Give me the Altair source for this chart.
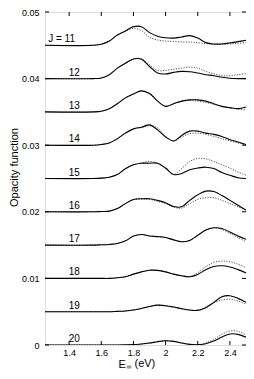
import altair as alt
import pandas as pd

# Photon energy grid (eV)
E = [1.25, 1.55, 1.6, 1.65, 1.7, 1.75, 1.8, 1.85, 1.9, 1.95, 2.0,
     2.05, 2.1, 2.15, 2.2, 2.25, 2.3, 2.35, 2.4, 2.45, 2.5]

J_VALUES = [11, 12, 13, 14, 15, 16, 17, 18, 19, 20]
SHIFT = 0.005  # vertical shift between successive J curves

# opacity function (units of 1e-3), solid = one model, dotted = other
s11 = [0, 0, 0.15, 0.64, 1.55, 2.15, 2.8, 2.8, 1.9, 1.37, 1.13, 1.08, 1.25, 1.45, 1.1, 0.4, 0.2, 0.2, 0.35, 0.55, 0.75]
d11 = [0, 0, 0.15, 0.64, 1.55, 2.1, 2.55, 2.2, 1.2, 0.8, 0.64, 0.59, 0.5, 0.49, 0.39, 0.25, 0.12, 0.15, 0.2, 0.3, 0.4]
s12 = [0, 0, 0.1, 0.59, 1.57, 2.3, 2.95, 2.9, 1.82, 0.83, 0.69, 0.93, 1.08, 1.03, 0.83, 0.59, 0.44, 0.2, 0.05, 0, 0]
d12 = [0, 0, 0.1, 0.59, 1.57, 2.3, 2.95, 3.0, 2.06, 1.23, 1.23, 1.42, 1.57, 1.72, 1.57, 1.08, 0.74, 0.44, 0.44, 0.59, 0.74]
s13 = [0, 0, 0.1, 0.49, 1.23, 2.11, 2.7, 3.15, 2.75, 1.62, 0.83, 1.23, 1.62, 1.81, 1.81, 1.62, 1.23, 0.83, 0.64, 0.49, 0.74]
d13 = [0, 0, 0.1, 0.49, 1.23, 2.11, 2.7, 3.15, 2.75, 1.62, 0.83, 1.23, 1.6, 1.72, 1.62, 1.42, 1.13, 0.83, 0.6, 0.4, 0.3]
s14 = [0, 0, 0.1, 0.34, 0.98, 1.81, 2.45, 2.7, 3.05, 2.3, 1.23, 0.64, 1.47, 2.11, 2.11, 1.81, 1.62, 1.32, 0.83, 0.49, 0.1]
d14 = [0, 0, 0.1, 0.34, 0.98, 1.81, 2.4, 2.65, 2.9, 2.6, 1.32, 0.64, 1.23, 1.72, 1.81, 1.62, 1.32, 0.98, 0.64, 0.34, 0.05]
s15 = [0, 0, 0.05, 0.2, 0.59, 1.47, 2.06, 2.3, 2.3, 2.3, 1.57, 0.6, 0.75, 1.32, 1.57, 1.7, 1.5, 0.9, 0.49, 0.1, 0.0]
d15 = [0, 0, 0.05, 0.2, 0.59, 1.47, 2.06, 2.35, 2.55, 2.3, 1.47, 0.6, 1.5, 2.55, 3.0, 2.94, 2.55, 2.06, 1.57, 0.98, 0.49]
s16 = [0, 0, 0.05, 0.1, 0.49, 1.23, 1.86, 1.96, 1.96, 1.72, 1.37, 0.8, 0.75, 1.72, 2.55, 3.1, 3.05, 2.45, 1.72, 0.98, 0.25]
d16 = [0, 0, 0.05, 0.1, 0.49, 1.2, 1.8, 1.9, 1.86, 1.57, 1.23, 0.7, 0.55, 1.23, 1.86, 2.11, 2.1, 1.72, 1.23, 0.74, 0.25]
s17 = [0, 0, 0.05, 0.1, 0.25, 0.64, 1.35, 1.6, 1.37, 1.27, 1.13, 0.78, 0.5, 0.7, 1.47, 2.25, 2.6, 2.5, 1.96, 1.37, 0.88]
d17 = [0, 0, 0.05, 0.1, 0.25, 0.64, 1.35, 1.6, 1.37, 1.27, 1.13, 0.78, 0.5, 0.7, 1.47, 2.25, 2.6, 2.35, 1.76, 1.13, 0.49]
s18 = [0, 0, 0, 0, 0.1, 0.25, 0.64, 0.98, 1.23, 1.2, 0.98, 0.64, 0.39, 0.25, 0.6, 1.3, 1.8, 1.9, 1.72, 1.32, 0.83]
d18 = [0, 0, 0, 0, 0.1, 0.25, 0.64, 0.98, 1.23, 1.2, 0.98, 0.64, 0.39, 0.25, 0.85, 1.75, 2.4, 2.6, 2.5, 2.15, 1.6]
s19 = [0, 0, 0, 0, 0.05, 0.1, 0.25, 0.49, 0.78, 0.98, 0.9, 0.7, 0.45, 0.25, 0.2, 0.6, 1.4, 2.25, 2.4, 2.0, 1.4]
d19 = [0, 0, 0, 0, 0.05, 0.1, 0.25, 0.49, 0.78, 0.98, 0.9, 0.7, 0.45, 0.25, 0.25, 0.7, 1.35, 1.75, 1.88, 1.6, 1.15]
s20 = [0, 0, 0, 0, 0, 0.02, 0.05, 0.15, 0.3, 0.5, 0.64, 0.55, 0.3, 0.1, 0.05, 0.2, 0.6, 1.2, 1.65, 1.6, 1.18]
d20 = [0, 0, 0, 0, 0, 0.02, 0.05, 0.15, 0.3, 0.5, 0.64, 0.55, 0.3, 0.1, 0.05, 0.3, 0.85, 1.6, 2.1, 2.05, 1.5]

SOLID = [s11, s12, s13, s14, s15, s16, s17, s18, s19, s20]
DOTTED = [d11, d12, d13, d14, d15, d16, d17, d18, d19, d20]

X_TICKS = [1.4, 1.6, 1.8, 2.0, 2.2, 2.4]
Y_TICKS = [0, 0.01, 0.02, 0.03, 0.04, 0.05]

rows = []
for j, s, d in zip(J_VALUES, SOLID, DOTTED):
    off = SHIFT * (20 - j)
    for e, vs, vd in zip(E, s, d):
        rows.append({"E": e, "J": j, "kind": "solid", "v": off + vs * 1e-3})
        rows.append({"E": e, "J": j, "kind": "dotted", "v": off + vd * 1e-3})
df = pd.DataFrame(rows)

lab = pd.DataFrame({"J": J_VALUES,
                    "v": [SHIFT * (20 - j) for j in J_VALUES],
                    "txt": ["J = 11"] + [str(j) for j in J_VALUES[1:]]})

W, H = 201, 333
FONT = "Liberation Sans"

xs = alt.Scale(domain=[1.25, 2.5], nice=False, zero=False)
ys = alt.Scale(domain=[0, 0.05], nice=False)

x_axis = alt.Axis(values=X_TICKS, format="~g", tickSize=0, domain=False, grid=False,
                  labelPadding=3, labelFontSize=9, labelFont=FONT, labelColor="black",
                  title="E", titleFont=FONT, titleFontSize=11, titleFontWeight="normal",
                  titleColor="black", titleX=73, titleY=22, titleAlign="left",
                  titleBaseline="alphabetic", titleAnchor="start")
y_axis = alt.Axis(values=Y_TICKS,
                  labelExpr="datum.value == 0 ? '0' : format(datum.value, '.2f')",
                  tickSize=0, domain=False, grid=False, labelPadding=6,
                  labelFontSize=9, labelFont=FONT, labelColor="black",
                  title="Opacity function", titleFont=FONT, titleFontSize=11,
                  titleFontWeight="normal", titleColor="black", titleX=-26, titleY=155,
                  titleAlign="center", titleBaseline="bottom", titleAngle=-90)

base = alt.Chart(df)
dotted = base.transform_filter("datum.kind == 'dotted'").mark_line(
    color="#555555", strokeWidth=1, strokeDash=[1.2, 1.4], interpolate="catmull-rom", clip=True
).encode(x=alt.X("E:Q", scale=xs, axis=x_axis), y=alt.Y("v:Q", scale=ys, axis=y_axis),
         detail="J:N")
solid = base.transform_filter("datum.kind == 'solid'").mark_line(
    color="black", strokeWidth=1.1, interpolate="catmull-rom", clip=True
).encode(x=alt.X("E:Q", scale=xs), y=alt.Y("v:Q", scale=ys), detail="J:N")

labels_first = alt.Chart(lab).transform_filter("datum.J == 11").mark_text(
    font=FONT, fontSize=10, color="black", align="center", baseline="alphabetic", dy=-3
).encode(x=alt.datum(1.353), y=alt.Y("v:Q", scale=ys), text="txt:N")
labels_rest = alt.Chart(lab).transform_filter("datum.J != 11").mark_text(
    font=FONT, fontSize=10, color="black", align="center", baseline="alphabetic", dy=-3
).encode(x=alt.datum(1.432), y=alt.Y("v:Q", scale=ys), text="txt:N")

xt = pd.DataFrame({"t": X_TICKS})
yt = pd.DataFrame({"t": Y_TICKS})
tick_style = dict(color="black", strokeWidth=1)
tb = alt.Chart(xt).mark_rule(**tick_style).encode(x=alt.X("t:Q", scale=xs), y=alt.value(H), y2=alt.value(H - 4))
tt = alt.Chart(xt).mark_rule(**tick_style).encode(x=alt.X("t:Q", scale=xs), y=alt.value(0), y2=alt.value(4))
tl = alt.Chart(yt).mark_rule(**tick_style).encode(y=alt.Y("t:Q", scale=ys), x=alt.value(0), x2=alt.value(4))
tr = alt.Chart(yt).mark_rule(**tick_style).encode(y=alt.Y("t:Q", scale=ys), x=alt.value(W), x2=alt.value(W - 4))

# subscript and unit of the x-axis title
sub = alt.Chart(xt).transform_filter("datum.t == 1.4").mark_text(
    font=FONT, fontSize=7, color="black", align="left", baseline="alphabetic", text="∞"
).encode(x=alt.value(81.5), y=alt.value(H + 24))
unit = alt.Chart(xt).transform_filter("datum.t == 1.4").mark_text(
    font=FONT, fontSize=11, color="black", align="left", baseline="alphabetic", text="(eV)"
).encode(x=alt.value(89.5), y=alt.value(H + 22))

chart = alt.layer(dotted, solid, labels_first, labels_rest, tb, tt, tl, tr, sub, unit).properties(
    width=W, height=H,
    autosize=alt.AutoSizeParams(type="none"),
    padding={"left": 37, "top": 4, "right": 0, "bottom": 26},
).configure_view(stroke="black", strokeWidth=1).configure(background="white")

chart.save("out.html", embed_options={"renderer": "svg", "actions": False})
